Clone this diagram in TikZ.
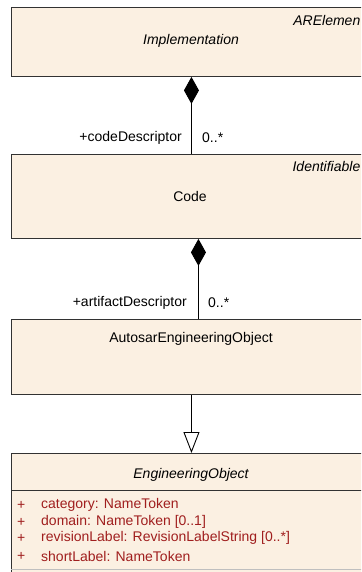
\documentclass[tikz,border=0pt]{standalone}
\usepackage{fontspec}
\setmainfont{Liberation Sans}
\usetikzlibrary{arrows.meta}
\definecolor{boxfill}{RGB}{251,240,226}
\definecolor{boxline}{RGB}{50,50,50}
\definecolor{attrred}{RGB}{160,30,30}
\begin{document}
\begin{tikzpicture}[x=1bp,y=-1bp,
  cls/.style={draw=boxline, fill=boxfill, line width=0.9bp, anchor=north west, inner sep=0pt, minimum width=360bp},
  lbl/.style={font=\fontsize{14bp}{16bp}\selectfont, inner sep=0pt},
  ital/.style={font=\fontsize{14bp}{16bp}\selectfont\itshape, inner sep=0pt},
  stereo/.style={font=\fontsize{14bp}{16bp}\selectfont\itshape, inner sep=0pt, anchor=east},
  attr/.style={font=\fontsize{14bp}{16bp}\selectfont, text=attrred, inner sep=0pt, anchor=west},
  conn/.style={draw=black, line width=0.9bp}
]
\useasboundingbox (0,0) rectangle (361,572);
\clip (0,0) rectangle (361,572);
% boxes
\node[cls, minimum height=69bp] (impl) at (11,7) {};
\node[cls, minimum height=84bp] (code) at (11,154) {};
\node[cls, minimum height=75bp] (aeo) at (11,319) {};
\node[cls, minimum height=140bp] (eo) at (11,453) {};
\draw[boxline, line width=0.9bp] (eo.west |- 0,490) coordinate (sepl) -- (eo.east |- 0,490) coordinate (sepr);
\draw[gray!50, line width=0.8bp] (eo.west |- 0,569) coordinate (sep2l) -- (eo.east |- 0,569) coordinate (sep2r);
% texts
\node[stereo] (st1) at (360.5,20) {ARElemen};
\node[ital] (t1) at (191,41) {Implementation};
\node[stereo] (st2) at (360.5,166) {Identifiable};
\node[lbl] (t2) at (190,196) {Code};
\node[lbl] (t3) at (191,339) {AutosarEngineeringObject};
\node[ital] (t4) at (191,475) {EngineeringObject};
\foreach \yy/\txt [count=\i] in {505/{category: NameToken}, 522/{domain: NameToken [0..1]}, 538/{revisionLabel: RevisionLabelString [0..*]}, 556/{shortLabel: NameToken}}{
  \node[attr] (p\i) at (17,\yy) {+};
  \node[attr] (a\i) at (41,\yy) {\txt};
}
% connectors
\draw[conn, {Diamond[length=27bp,width=15bp]}-] (impl.south) -- (code.north);
\node[lbl, anchor=east] (r1) at (182,138) {+codeDescriptor};
\node[lbl, anchor=west] (m1) at (202,138) {0..*};
\draw[conn, {Diamond[length=27bp,width=15bp]}-] ([xshift=7bp]code.south) -- ([xshift=7bp]aeo.north);
\node[lbl, anchor=east] (r2) at (187,303) {+artifactDescriptor};
\node[lbl, anchor=west] (m2) at (208,303) {0..*};
\draw[conn, -{Triangle[length=21bp,width=16bp,fill=white]}] (aeo.south) -- (eo.north);
\end{tikzpicture}
\end{document}
